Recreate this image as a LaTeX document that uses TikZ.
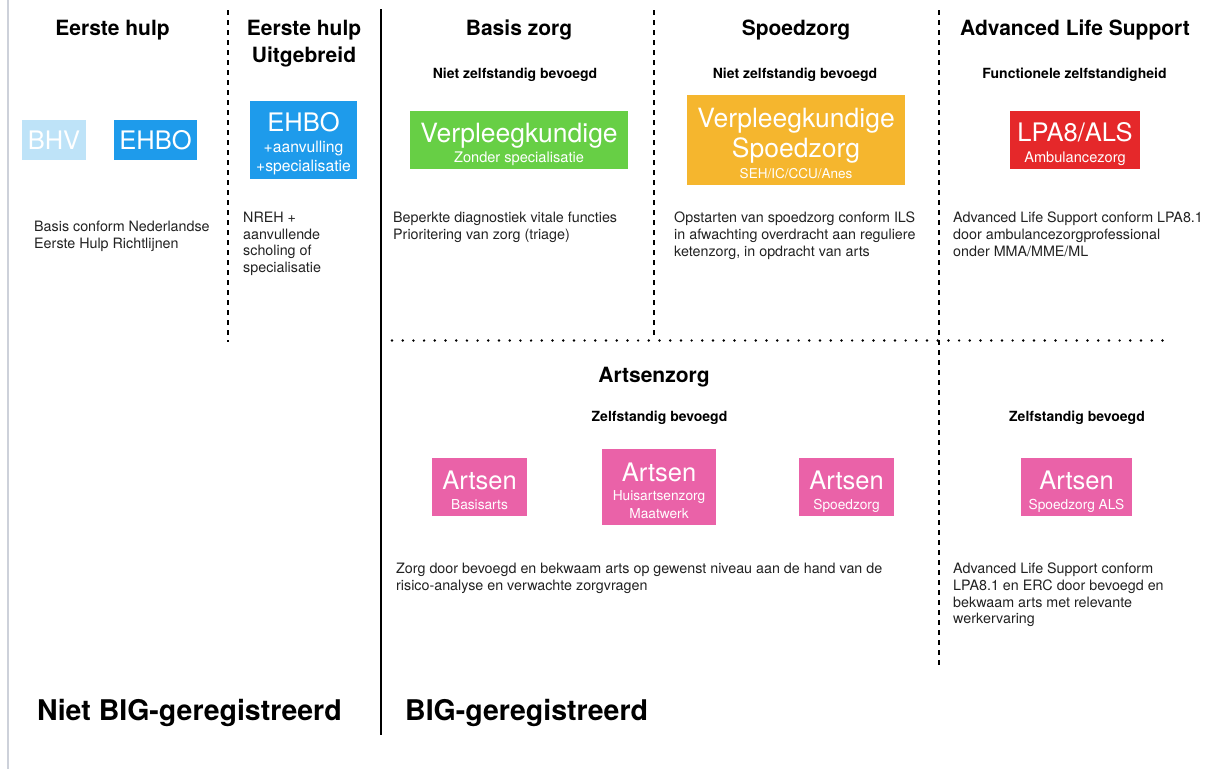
\documentclass[tikz,border=0pt]{standalone}
\usepackage{fontspec}
\setmainfont{TeX Gyre Heros}
\definecolor{ehbolight}{HTML}{BEE3F8}
\definecolor{ehboblue}{HTML}{1E9BEB}
\definecolor{nursegreen}{HTML}{67CF45}
\definecolor{urgentorange}{HTML}{F5B62E}
\definecolor{alsred}{HTML}{E5282A}
\definecolor{doctorpink}{HTML}{EA62A8}
\definecolor{bodytext}{HTML}{222222}
\definecolor{framegray}{HTML}{CDD1DA}
\begin{document}
\begin{tikzpicture}[x=1pt,y=-1pt,
  head/.style={font=\fontsize{21}{24}\selectfont\bfseries, anchor=base, inner sep=0pt},
  subhead/.style={font=\fontsize{14}{16}\selectfont\bfseries, anchor=base, inner sep=0pt},
  desc/.style={font=\fontsize{14.3}{16.6}\selectfont, text=bodytext, align=left, anchor=north west, inner sep=0pt},
  footer/.style={font=\fontsize{28.5}{32}\selectfont\bfseries, anchor=base west, inner sep=0pt},
  card/.style={rectangle, draw=none, inner sep=0pt},
  cardbig/.style={font=\fontsize{25.5}{30}\selectfont, text=white, anchor=base, inner sep=0pt},
  cardsmall/.style={font=\fontsize{14.6}{17}\selectfont, text=white, anchor=base, inner sep=0pt},
  divider/.style={line width=2.8pt, dash pattern=on 4.5pt off 5.5pt},
  dotrow/.style={line width=2.7pt, line cap=round, dash pattern=on 0pt off 10.7pt},
]
% canvas and left frame edge
\fill[white] (0,0) rectangle (1212,769);
\useasboundingbox (0,0) rectangle (1212,769);
\draw[framegray, line width=2pt] (7.5,0) -- (7.5,769);

% column dividers
\draw[line width=2pt] (380.5,9) -- (380.5,735);
\draw[divider] (228,10) -- (228,342);
\draw[divider] (654,10) -- (654,340);
\draw[divider] (939,10) -- (939,668);
\draw[dotrow] (392,340.5) -- (1168,340.5);

% column headings
\node[head] (h1) at (112.5,35) {Eerste hulp};
\node[head] (h2a) at (304,35) {Eerste hulp};
\node[head] (h2b) at (304,62) {Uitgebreid};
\node[head] (h3) at (519,35) {Basis zorg};
\node[head] (h4) at (796,35) {Spoedzorg};
\node[head] (h5) at (1075,35) {Advanced Life Support};
\node[head] (h6) at (654,382) {Artsenzorg};

\node[subhead] (s3) at (515,78) {Niet zelfstandig bevoegd};
\node[subhead] (s4) at (795,78) {Niet zelfstandig bevoegd};
\node[subhead] (s5) at (1074.5,78) {Functionele zelfstandigheid};
\node[subhead] (s6) at (659.5,421) {Zelfstandig bevoegd};
\node[subhead] (s7) at (1077,421) {Zelfstandig bevoegd};

% first aid cards
\node[card, fill=ehbolight, minimum width=64pt, minimum height=40pt] (bhv) at (54,140) {};
\node[cardbig] (bhvt) at (54,149) {BHV};
\node[card, fill=ehboblue, minimum width=83pt, minimum height=40pt] (ehbo) at (155.5,140) {};
\node[cardbig] (ehbot) at (155.5,149) {EHBO};
\node[card, fill=ehboblue, minimum width=107pt, minimum height=78pt] (ehbox) at (303.5,140) {};
\node[cardbig] (ehboxt) at (303.5,131) {EHBO};
\node[cardsmall, font=\fontsize{15.7}{18}\selectfont] (ehboxa) at (303.5,152.5) {+aanvulling};
\node[cardsmall, font=\fontsize{15.7}{18}\selectfont] (ehboxb) at (303.5,171.5) {+specialisatie};

% nursing cards
\node[card, fill=nursegreen, minimum width=218pt, minimum height=58pt] (vpk) at (519,140) {};
\node[cardbig, font=\fontsize{26.5}{30}\selectfont] (vpkt) at (519,142.4) {Verpleegkundige};
\node[cardsmall] (vpks) at (519,162.3) {Zonder specialisatie};
\node[card, fill=urgentorange, minimum width=218pt, minimum height=90pt] (svpk) at (796,140) {};
\node[cardbig, font=\fontsize{26.5}{30}\selectfont] (svpkt) at (796,127) {Verpleegkundige};
\node[cardbig, font=\fontsize{26.5}{30}\selectfont] (svpkt2) at (796,157.5) {Spoedzorg};
\node[cardsmall, font=\fontsize{13.5}{16}\selectfont] (svpks) at (796,178.5) {SEH/IC/CCU/Anes};

% ambulance card
\node[card, fill=alsred, minimum width=130pt, minimum height=58pt] (lpa) at (1075,140) {};
\node[cardbig] (lpat) at (1075,141) {LPA8/ALS};
\node[cardsmall] (lpas) at (1075,162) {Ambulancezorg};

% doctor cards
\node[card, fill=doctorpink, minimum width=95pt, minimum height=58pt] (a1) at (479.5,487) {};
\node[cardbig] (a1t) at (479.5,489) {Artsen};
\node[cardsmall, font=\fontsize{13.7}{16}\selectfont] (a1s) at (479.5,509) {Basisarts};
\node[card, fill=doctorpink, minimum width=114pt, minimum height=76pt] (a2) at (659,487) {};
\node[cardbig] (a2t) at (659,481) {Artsen};
\node[cardsmall, font=\fontsize{13.7}{16}\selectfont] (a2s) at (659,500.7) {Huisartsenzorg};
\node[cardsmall, font=\fontsize{13.7}{16}\selectfont] (a2u) at (659,518) {Maatwerk};
\node[card, fill=doctorpink, minimum width=95pt, minimum height=58pt] (a3) at (846.5,487) {};
\node[cardbig] (a3t) at (846.5,489) {Artsen};
\node[cardsmall, font=\fontsize{13.7}{16}\selectfont] (a3s) at (846.5,509) {Spoedzorg};
\node[card, fill=doctorpink, minimum width=111pt, minimum height=58pt] (a4) at (1076.5,487) {};
\node[cardbig] (a4t) at (1076.5,489) {Artsen};
\node[cardsmall, font=\fontsize{13.7}{16}\selectfont] (a4s) at (1076.5,509) {Spoedzorg ALS};

% descriptions
\node[desc] (d1) at (34,221) {Basis conform Nederlandse\\Eerste Hulp Richtlijnen};
\node[desc] (d2) at (243,212) {NREH +\\aanvullende\\scholing of\\specialisatie};
\node[desc] (d3) at (393,212) {Beperkte diagnostiek vitale functies\\Prioritering van zorg (triage)};
\node[desc] (d4) at (674,212) {Opstarten van spoedzorg conform ILS\\in afwachting overdracht aan reguliere\\ketenzorg, in opdracht van arts};
\node[desc] (d5) at (953,212) {Advanced Life Support conform LPA8.1\\door ambulancezorgprofessional\\onder MMA/MME/ML};
\node[desc] (d6) at (396,563) {Zorg door bevoegd en bekwaam arts op gewenst niveau aan de hand van de\\risico-analyse en verwachte zorgvragen};
\node[desc] (d7) at (953,563) {Advanced Life Support conform\\LPA8.1 en ERC door bevoegd en\\bekwaam arts met relevante\\werkervaring};

% registration footers
\node[footer] (f1) at (37,720) {Niet BIG-geregistreerd};
\node[footer] (f2) at (405,720) {BIG-geregistreerd};
\end{tikzpicture}
\end{document}
